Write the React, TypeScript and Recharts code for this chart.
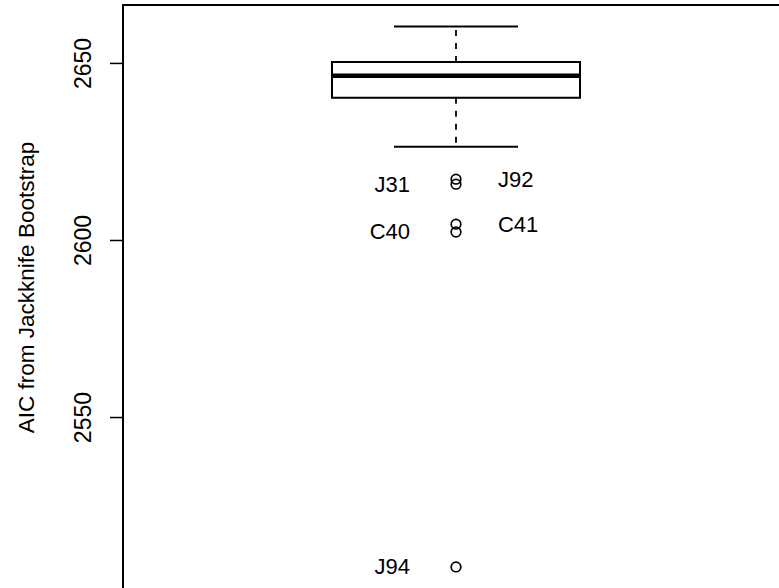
import React from "react"
import {
  ComposedChart,
  XAxis,
  YAxis,
  Scatter,
  ReferenceArea,
  ReferenceLine,
} from "recharts"

// box statistics: lower whisker, Q1, median, Q3, upper whisker
const whiskerLow = 2626.5
const quartile1 = 2640.3
const median = 2646.5
const quartile3 = 2650.4
const whiskerHigh = 2660.4

// outliers and their labels
const outlierNames = ["J92", "J31", "C41", "C40", "J94"]
const outlierValues = [2617.3, 2615.9, 2604.6, 2602.4, 2507.8]

const yTicks = [2550, 2600, 2650]
const yDomain = [2490, 2666.5]
const xDomain = [-0.074, 2.303]

const FONT = "'Liberation Sans', Arial, Helvetica, sans-serif"
const rightLabels = new Set(["J92", "C41"])

const outliers = outlierNames.map((name, i) => ({
  x: 1,
  y: outlierValues[i],
  name,
}))

function OutlierMark(props: any) {
  const { cx, cy, payload } = props
  const right = rightLabels.has(payload.name)
  return (
    <g>
      <circle cx={cx} cy={cy} r={4.8} fill="none" stroke="#000" strokeWidth={1.7} />
      <text
        x={right ? cx + 42 : cx - 46}
        y={cy}
        textAnchor={right ? "start" : "end"}
        dominantBaseline="central"
        fontFamily={FONT}
        fontSize={22}
        fill="#000"
      >
        {payload.name}
      </text>
    </g>
  )
}

function YTick(props: any) {
  const { x, y, payload } = props
  const cx = x - 25
  return (
    <text
      x={cx}
      y={y}
      transform={`rotate(-90, ${cx}, ${y})`}
      textAnchor="middle"
      dominantBaseline="central"
      fontFamily={FONT}
      fontSize={23}
      fill="#000"
    >
      {payload.value}
    </text>
  )
}

function YLabel(props: any) {
  const { viewBox } = props
  const cx = viewBox.x + 26
  // the figure is cropped at the bottom, so the title sits above the frame's middle
  const cy = viewBox.y + viewBox.height / 2 - 30
  return (
    <text
      x={cx}
      y={cy}
      transform={`rotate(-90, ${cx}, ${cy})`}
      textAnchor="middle"
      dominantBaseline="central"
      fontFamily={FONT}
      fontSize={22.5}
      fill="#000"
    >
      AIC from Jackknife Bootstrap
    </text>
  )
}

export default function App() {
  return (
    <div
      style={{
        position: "absolute",
        left: 0,
        top: 0,
        width: 779,
        height: 588,
        overflow: "hidden",
        background: "#fff",
      }}
    >
      <ComposedChart
        width={860}
        height={630}
        margin={{ top: 5, right: 0, bottom: 0, left: 0 }}
      >
        <XAxis type="number" dataKey="x" domain={xDomain} hide />
        <YAxis
          type="number"
          dataKey="y"
          domain={yDomain}
          ticks={yTicks}
          width={123}
          axisLine={false}
          tickSize={13}
          tickLine={{ stroke: "#000", strokeWidth: 1.5 }}
          tick={<YTick />}
          label={<YLabel />}
        />
        {/* plot frame */}
        <ReferenceArea
          x1={xDomain[0]}
          x2={xDomain[1]}
          y1={yDomain[0]}
          y2={yDomain[1]}
          fill="none"
          stroke="#000"
          strokeWidth={2}
          fillOpacity={0}
        />
        {/* whiskers */}
        <ReferenceLine
          segment={[{ x: 1, y: quartile3 }, { x: 1, y: whiskerHigh }]}
          stroke="#000"
          strokeWidth={1.8}
          strokeDasharray="6 7"
        />
        <ReferenceLine
          segment={[{ x: 1, y: quartile1 }, { x: 1, y: whiskerLow }]}
          stroke="#000"
          strokeWidth={1.8}
          strokeDasharray="6 7"
        />
        <ReferenceLine
          segment={[{ x: 0.8, y: whiskerHigh }, { x: 1.2, y: whiskerHigh }]}
          stroke="#000"
          strokeWidth={2}
        />
        <ReferenceLine
          segment={[{ x: 0.8, y: whiskerLow }, { x: 1.2, y: whiskerLow }]}
          stroke="#000"
          strokeWidth={2}
        />
        {/* box */}
        <ReferenceArea
          x1={0.6}
          x2={1.4}
          y1={quartile1}
          y2={quartile3}
          fill="#fff"
          fillOpacity={1}
          stroke="#000"
          strokeWidth={2}
        />
        <ReferenceLine
          segment={[{ x: 0.6, y: median }, { x: 1.4, y: median }]}
          stroke="#000"
          strokeWidth={4.5}
        />
        <Scatter
          data={outliers}
          dataKey="y"
          shape={<OutlierMark />}
          isAnimationActive={false}
        />
      </ComposedChart>
    </div>
  )
}
